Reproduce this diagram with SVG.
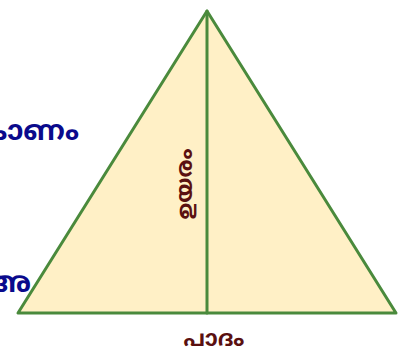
<svg xmlns="http://www.w3.org/2000/svg" width="405" height="352" viewBox="0 0 405 352">
<style>
.edge{stroke:#4a8a3c;stroke-width:3;fill:none;stroke-linecap:round;stroke-linejoin:round}
.lbl{font-family:"Noto Sans Malayalam","Noto Sans","DejaVu Sans",sans-serif;font-weight:bold}
.blue{fill:#0a0a8c;font-size:28px}
.brown{fill:#5a1010;font-size:22px}
</style>
<rect width="405" height="352" fill="#ffffff"/>
<g id="triangle">
<polygon points="207,11 18,313 396,313" fill="#fff0c6"/>
</g>
<g id="connectors">
<polygon class="edge" points="207,11 18,313 396,313"/>
<line class="edge" x1="207" y1="11" x2="207" y2="313"/>
</g>
<g id="label-angle"><text class="lbl blue" x="79" y="140" text-anchor="end">ശീർഷകോണം</text></g>
<g id="label-vertex"><text class="lbl blue" x="31" y="292" text-anchor="end">അ</text></g>
<g id="label-base"><text class="lbl brown" x="214" y="346" text-anchor="middle">പാദം</text></g>
<g id="label-height"><text class="lbl brown" transform="translate(192,184) rotate(-90)" text-anchor="middle">ഉയരം</text></g>
</svg>
